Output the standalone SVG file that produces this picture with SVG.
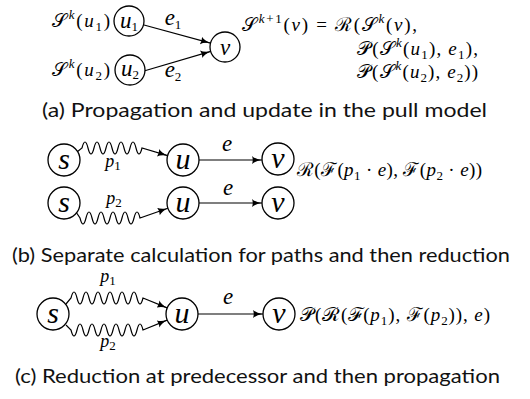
<svg xmlns="http://www.w3.org/2000/svg" width="530" height="399" viewBox="0 0 530 399">
<style>
.bg{fill:#fff}
.nd{fill:#fff;stroke:#000;stroke-width:1.3}
.ln{fill:none;stroke:#000;stroke-width:1.2}
.m{font-family:"Liberation Serif","DejaVu Serif",serif;font-size:19px;fill:#000}
.i{font-style:italic}
.s{font-size:13px}
.nl{font-family:"Liberation Serif","DejaVu Serif",serif;font-style:italic;font-size:23px;text-anchor:middle;fill:#000}
.big{font-size:30px}
.lb{font-family:"Liberation Serif","DejaVu Serif",serif;font-style:italic;font-size:18px;text-anchor:middle;fill:#000}
.cap{font-family:Lato,"Noto Sans",sans-serif;font-size:20px;fill:#111}
</style>
<defs>
<marker id="ah" markerUnits="userSpaceOnUse" markerWidth="11" markerHeight="8" refX="10" refY="4" orient="auto">
<path d="M0,0 Q3,3 10,4 Q3,5 0,8 Q1.5,4 0,0 z" fill="#000"/>
</marker>
</defs>
<rect class="bg" x="0" y="0" width="530" height="399"/>

<!-- (a) -->
<g id="connectors-a">
<line class="ln" x1="144" y1="25" x2="210.5" y2="43.1" marker-end="url(#ah)"/>
<line class="ln" x1="144" y1="71" x2="210.7" y2="51.4" marker-end="url(#ah)"/>
<text class="nl" x="173" y="25" font-size="22">e<tspan class="s" dy="4" font-style="normal">1</tspan></text>
<text class="nl" x="173" y="77" font-size="22">e<tspan class="s" dy="4" font-style="normal">2</tspan></text>
</g>
<g id="node-u1">
<circle class="nd" cx="129" cy="21" r="15"/>
<text class="nl" x="129" y="28">u<tspan class="s" dy="3" font-style="normal">1</tspan></text>
</g>
<g id="node-u2">
<circle class="nd" cx="130" cy="70" r="15"/>
<text class="nl" x="130" y="76">u<tspan class="s" dy="3" font-style="normal">2</tspan></text>
</g>
<g id="node-v-a">
<circle class="nd" cx="225" cy="47" r="15"/>
<text class="nl" x="225" y="55" font-size="26">v</text>
</g>
<text class="m" x="52" y="27" textLength="58">𝒮<tspan class="s i" dy="-8">k</tspan><tspan dy="8">(</tspan><tspan class="i">u</tspan><tspan class="s" dy="4">1</tspan><tspan dy="-4">)</tspan></text>
<text class="m" x="52" y="76" textLength="58">𝒮<tspan class="s i" dy="-8">k</tspan><tspan dy="8">(</tspan><tspan class="i">u</tspan><tspan class="s" dy="4">2</tspan><tspan dy="-4">)</tspan></text>
<text class="m" x="242" y="31" textLength="175">𝒮<tspan class="s" dy="-8"><tspan class="i">k</tspan>+1</tspan><tspan dy="8">(</tspan><tspan class="i">v</tspan>) = ℛ(𝒮<tspan class="s i" dy="-8">k</tspan><tspan dy="8">(</tspan><tspan class="i">v</tspan>),</text>
<text class="m" x="357" y="55" textLength="121">𝒫(𝒮<tspan class="s i" dy="-8">k</tspan><tspan dy="8">(</tspan><tspan class="i">u</tspan><tspan class="s" dy="4">1</tspan><tspan dy="-4">), </tspan><tspan class="i">e</tspan><tspan class="s" dy="4">1</tspan><tspan dy="-4">),</tspan></text>
<text class="m" x="357" y="78" textLength="121">𝒫(𝒮<tspan class="s i" dy="-8">k</tspan><tspan dy="8">(</tspan><tspan class="i">u</tspan><tspan class="s" dy="4">2</tspan><tspan dy="-4">), </tspan><tspan class="i">e</tspan><tspan class="s" dy="4">2</tspan><tspan dy="-4">))</tspan></text>
<text class="cap" x="42" y="117" textLength="445" lengthAdjust="spacingAndGlyphs">(a) Propagation and update in the pull model</text>

<!-- (b) -->
<g id="connectors-b">
<path class="ln" d="M77,152 L82,148 c2,-8 4,-8 6,0 c2,8 4,8 6,0 c2,-8 4,-8 6,0 c2,8 4,8 6,0 c2,-8 4,-8 6,0 c2,8 4,8 6,0 c2,-8 4,-8 6,0 c2,8 4,8 6,0 c2,-8 4,-8 6,0 c2,8 4,8 6,0 L167.6,155.6" marker-end="url(#ah)"/>
<path class="ln" d="M76,212 L80,218 c2,8 4,8 6,0 c2,-8 4,-8 6,0 c2,8 4,8 6,0 c2,-8 4,-8 6,0 c2,8 4,8 6,0 c2,-8 4,-8 6,0 c2,8 4,8 6,0 c2,-8 4,-8 6,0 c2,8 4,8 6,0 c2,-8 4,-8 6,0 L167.9,208.3" marker-end="url(#ah)"/>
<line class="ln" x1="199" y1="160" x2="262" y2="160" marker-end="url(#ah)"/>
<line class="ln" x1="199" y1="203" x2="262" y2="203" marker-end="url(#ah)"/>
<text class="lb" x="113" y="167">p<tspan class="s" dy="3" font-style="normal">1</tspan></text>
<text class="lb" x="114" y="204">p<tspan class="s" dy="3" font-style="normal">2</tspan></text>
<text class="nl" x="227" y="151" font-size="26">e</text>
<text class="nl" x="228" y="195" font-size="26">e</text>
</g>
<g id="node-s-b1"><circle class="nd" cx="64" cy="160" r="16"/><text class="nl big" x="64" y="169">s</text></g>
<g id="node-u-b1"><circle class="nd" cx="183" cy="160" r="16"/><text class="nl big" x="183" y="169">u</text></g>
<g id="node-v-b1"><circle class="nd" cx="278" cy="159" r="16"/><text class="nl big" x="278" y="168">v</text></g>
<g id="node-s-b2"><circle class="nd" cx="64" cy="203" r="16"/><text class="nl big" x="64" y="212">s</text></g>
<g id="node-u-b2"><circle class="nd" cx="183" cy="203" r="16"/><text class="nl big" x="183" y="212">u</text></g>
<g id="node-v-b2"><circle class="nd" cx="278" cy="203" r="16"/><text class="nl big" x="278" y="212">v</text></g>
<text class="m" x="297" y="176" textLength="185">ℛ(ℱ(<tspan class="i">p</tspan><tspan class="s" dy="4">1</tspan><tspan dy="-4"> · </tspan><tspan class="i">e</tspan>), ℱ(<tspan class="i">p</tspan><tspan class="s" dy="4">2</tspan><tspan dy="-4"> · </tspan><tspan class="i">e</tspan>))</text>
<text class="cap" x="12" y="262" textLength="498" lengthAdjust="spacingAndGlyphs">(b) Separate calculation for paths and then reduction</text>

<!-- (c) -->
<g id="connectors-c">
<path class="ln" d="M66,304 L71,298 c2,-8 4,-8 6,0 c2,8 4,8 6,0 c2,-8 4,-8 6,0 c2,8 4,8 6,0 c2,-8 4,-8 6,0 c2,8 4,8 6,0 c2,-8 4,-8 6,0 c2,8 4,8 6,0 c2,-8 4,-8 6,0 c2,8 4,8 6,0 c2,-8 4,-8 6,0 c2,8 4,8 6,0 L167.2,307.9" marker-end="url(#ah)"/>
<path class="ln" d="M66,325 L71,330 c2,8 4,8 6,0 c2,-8 4,-8 6,0 c2,8 4,8 6,0 c2,-8 4,-8 6,0 c2,8 4,8 6,0 c2,-8 4,-8 6,0 c2,8 4,8 6,0 c2,-8 4,-8 6,0 c2,8 4,8 6,0 c2,-8 4,-8 6,0 c2,8 4,8 6,0 c2,-8 4,-8 6,0 L167.2,320.1" marker-end="url(#ah)"/>
<line class="ln" x1="198" y1="314" x2="263" y2="314" marker-end="url(#ah)"/>
<text class="lb" x="108" y="282">p<tspan class="s" dy="3" font-style="normal">1</tspan></text>
<text class="lb" x="108" y="347">p<tspan class="s" dy="3" font-style="normal">2</tspan></text>
<text class="nl" x="228" y="304" font-size="26">e</text>
</g>
<g id="node-s-c"><circle class="nd" cx="53" cy="314" r="16"/><text class="nl big" x="53" y="323">s</text></g>
<g id="node-u-c"><circle class="nd" cx="182" cy="314" r="16"/><text class="nl big" x="182" y="323">u</text></g>
<g id="node-v-c"><circle class="nd" cx="279" cy="314" r="16"/><text class="nl big" x="279" y="323">v</text></g>
<text class="m" x="300" y="321" textLength="190">𝒫(ℛ(ℱ(<tspan class="i">p</tspan><tspan class="s" dy="4">1</tspan><tspan dy="-4">), ℱ(</tspan><tspan class="i">p</tspan><tspan class="s" dy="4">2</tspan><tspan dy="-4">)), </tspan><tspan class="i">e</tspan>)</text>
<text class="cap" x="15" y="383" textLength="485" lengthAdjust="spacingAndGlyphs">(c) Reduction at predecessor and then propagation</text>
</svg>
